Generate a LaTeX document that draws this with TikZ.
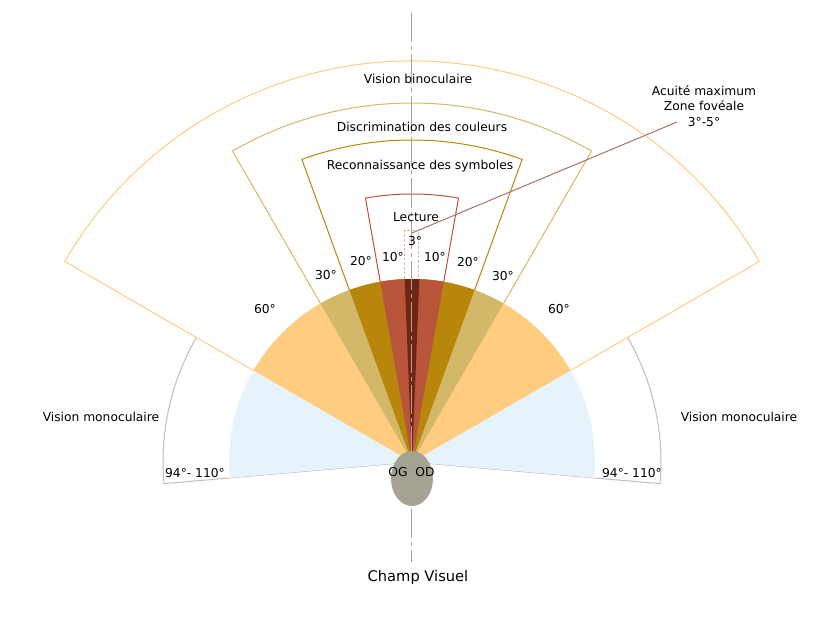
\documentclass[tikz,border=0pt]{standalone}
\usepackage{fontspec}
\setmainfont{DejaVu Sans}
\definecolor{binoc}{RGB}{255,204,128}
\definecolor{coul}{RGB}{212,184,106}
\definecolor{symb}{RGB}{184,134,11}
\definecolor{lect}{RGB}{184,85,58}
\definecolor{fovea}{RGB}{112,38,20}
\definecolor{monoc}{RGB}{230,243,251}
\definecolor{monoline}{RGB}{190,190,190}
\definecolor{axe}{RGB}{168,162,146}
\definecolor{tete}{RGB}{165,162,148}
\definecolor{renvoi}{RGB}{165,115,105}
\begin{document}
\begin{tikzpicture}[x=0.75pt,y=0.75pt,
    lbl/.style={font=\fontsize{9.2}{11.6}\selectfont,inner sep=1pt},
    contour/.style={line width=0.75pt}]
\useasboundingbox (-412,-157) rectangle (413,462);
% contours des zones
\draw[monoline,contour] (0,0) -- (185:249) arc[start angle=185,end angle=150,radius=249];
\draw[monoline,contour] (0,0) -- (-5:249) arc[start angle=-5,end angle=30,radius=249];
\foreach \a/\r/\c in {60/401/binoc,30/359/coul,20/322/symb,10/268/lect}
  \draw[\c,contour] (0,0) -- (90-\a:\r) arc[start angle=90-\a,end angle=90+\a,radius=\r] -- cycle;
\draw[lect!45,contour,dash pattern=on 2pt off 1.5pt] (-7,183) -- (-7,232) -- (7,232) -- (7,183);
% secteurs remplis
\foreach \a/\c in {95/monoc,60/binoc,30/coul,20/symb,10/lect,2.3/fovea}
  \fill[\c] (0,0) -- (90-\a:183) arc[start angle=90-\a,end angle=90+\a,radius=183] -- cycle;
\draw[axe,contour,dash pattern=on 22pt off 3pt on 3pt off 3pt] (0,449) -- (0,-100);
\fill[tete] (0,-16.5) ellipse [x radius=21,y radius=27.5];
% textes
\node[lbl] (binoculaire) at (6,383) {Vision binoculaire};
\node[lbl] (couleurs) at (10,335) {Discrimination des couleurs};
\node[lbl] (symboles) at (8,296) {Reconnaissance des symboles};
\node[lbl] (lecture) at (4,245) {Lecture};
\node[lbl] (trois) at (3,221) {3°};
\node[lbl] (dixg) at (-19,205) {10°};
\node[lbl] (dixd) at (23,205) {10°};
\node[lbl] (vingtg) at (-51,201) {20°};
\node[lbl] (vingtd) at (56,200) {20°};
\node[lbl] (trenteg) at (-86,187) {30°};
\node[lbl] (trented) at (91,186) {30°};
\node[lbl] (soixanteg) at (-147,153) {60°};
\node[lbl] (soixanted) at (147,153) {60°};
\node[lbl] (monog) at (-311,45) {Vision monoculaire};
\node[lbl] (monod) at (327,45) {Vision monoculaire};
\node[lbl] (limiteg) at (-217,-11) {94°- 110°};
\node[lbl] (limited) at (220,-11) {94°- 110°};
\node[lbl] (og) at (-14,-10) {OG};
\node[lbl] (od) at (13,-10) {OD};
\node[lbl,align=center] (acuite) at (292,356) {Acuité maximum\\Zone fovéale\\3°-5°};
\node[font=\fontsize{11}{13}\selectfont] (titre) at (6,-115) {Champ Visuel};
% renvoi
\coordinate (fov) at (0,229);
\coordinate (note) at (265,340);
\draw[renvoi,contour] (fov) -- (note);
\end{tikzpicture}
\end{document}
